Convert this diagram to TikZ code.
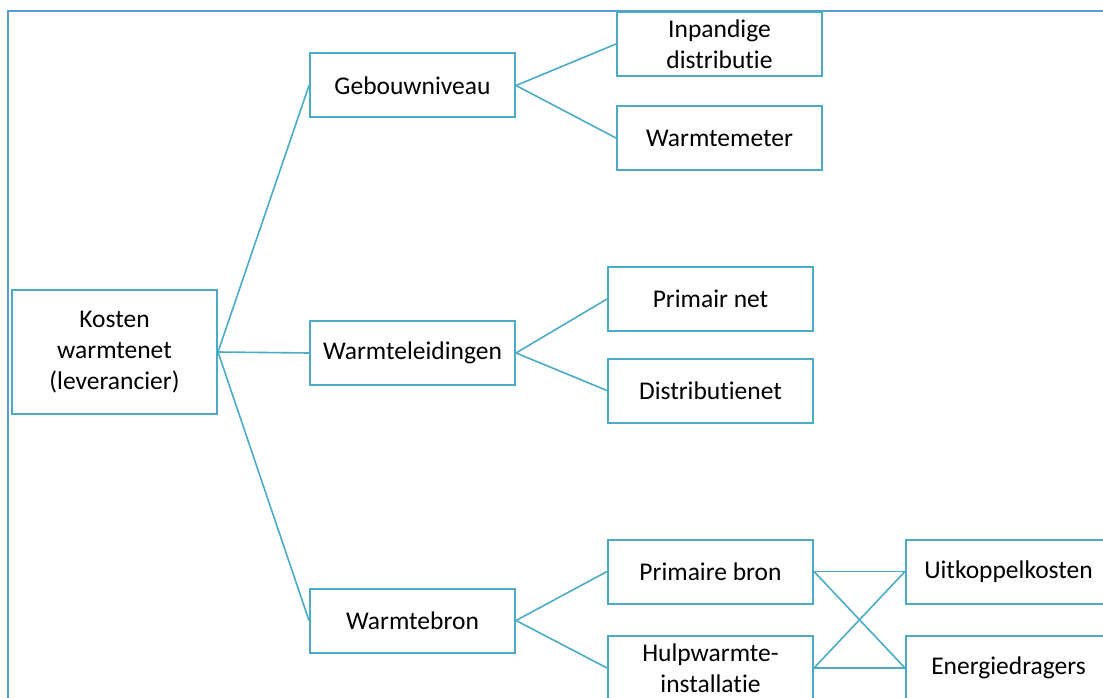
\documentclass[tikz,border=0pt]{standalone}
\usepackage{fontspec}
\setmainfont[Ligatures={NoCommon}]{Carlito}
\definecolor{frameblue}{RGB}{91,155,213}
\definecolor{boxblue}{RGB}{75,172,198}
\begin{document}
\begin{tikzpicture}[x=1pt,y=-1pt,
  box/.style={draw=boxblue,line width=2pt,fill=white,rectangle,minimum width=205pt,minimum height=64pt,inner sep=0pt,align=center,font=\fontsize{25.5}{31}\selectfont,text=black},
  link/.style={draw=boxblue,line width=1.6pt}]
\useasboundingbox (0,0) rectangle (1103,698);
\clip (0,0) rectangle (1103,698);
\draw[frameblue,line width=2pt] (8,710) -- (8,11) -- (1110,11);
\node[box,minimum height=124pt] (kosten) at (114.5,352) {Kosten\\warmtenet\\(leverancier)};
\node[box] (gebouw) at (412.5,85.5) {Gebouwniveau};
\node[box] (leid) at (412.5,353) {Warmteleidingen};
\node[box] (bron) at (412.5,620.5) {Warmtebron};
\node[box] (inpand) at (719.5,44) {Inpandige\\distributie};
\node[box] (meter) at (719.5,138) {Warmtemeter};
\node[box] (primnet) at (710.5,299) {Primair net};
\node[box] (distnet) at (710.5,390.5) {Distributienet};
\node[box] (primbron) at (710.5,571.5) {Primaire bron};
\node[box] (hulp) at (710.5,668) {Hulpwarmte-\\installatie};
\node[box] (uitk) at (1008.5,571.5) {Uitkoppelkosten};
\node[box] (energie) at (1008.5,668) {Energiedragers};
\draw[link] (kosten.east) -- (gebouw.west);
\draw[link] (kosten.east) -- (leid.west);
\draw[link] (kosten.east) -- (bron.west);
\draw[link] (gebouw.east) -- (inpand.west);
\draw[link] (gebouw.east) -- (meter.west);
\draw[link] (leid.east) -- (primnet.west);
\draw[link] (leid.east) -- (distnet.west);
\draw[link] (bron.east) -- (primbron.west);
\draw[link] (bron.east) -- (hulp.west);
\draw[link] (primbron.east) -- (uitk.west);
\draw[link] (primbron.east) -- (energie.west);
\draw[link] (hulp.east) -- (uitk.west);
\draw[link] (hulp.east) -- (energie.west);
\end{tikzpicture}
\end{document}
